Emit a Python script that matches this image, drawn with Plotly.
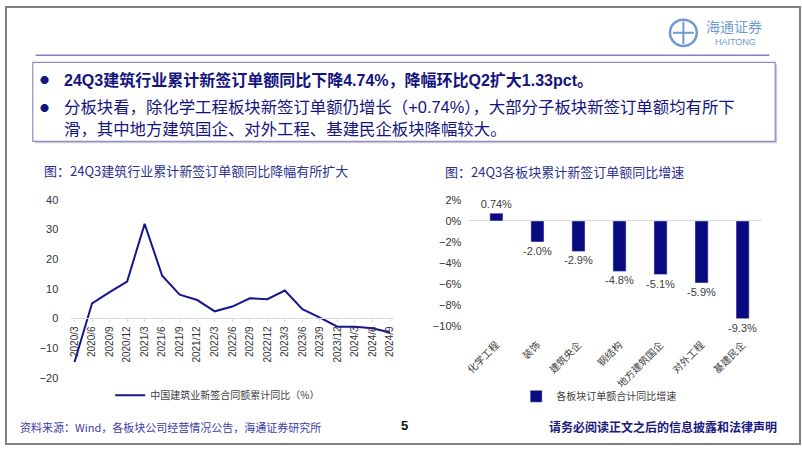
import plotly.graph_objects as go

W, H = 802, 451

# ---- data ----
quarters = ["2020/3", "2020/6", "2020/9", "2020/12", "2021/3", "2021/6", "2021/9", "2021/12",
            "2022/3", "2022/6", "2022/9", "2022/12", "2023/3", "2023/6", "2023/9", "2023/12",
            "2024/3", "2024/6", "2024/9"]
yoy_values = [-14.7, 5.1, 8.9, 12.4, 31.9, 14.4, 8.0, 6.2, 2.4, 4.0, 6.8, 6.5, 9.4, 3.1, 0.3,
              -2.8, -2.8, -3.3, -4.74]
line_name = "中国建筑业新签合同额累计同比（%）"

sectors = ["化学工程", "装饰", "建筑央企", "钢结构", "地方建筑国企", "对外工程", "基建民企"]
sector_values = [0.74, -2.0, -2.9, -4.8, -5.1, -5.9, -9.3]
sector_labels = ["0.74%", "-2.0%", "-2.9%", "-4.8%", "-5.1%", "-5.9%", "-9.3%"]
bar_name = "各板块订单额合计同比增速"

left_title = "图：24Q3建筑行业累计新签订单额同比降幅有所扩大"
right_title = "图：24Q3各板块累计新签订单额同比增速"
bullet1 = "24Q3建筑行业累计新签订单额同比下降4.74%，降幅环比Q2扩大1.33pct。"
bullet2a = "分板块看，除化学工程板块新签订单额仍增长（+0.74%），大部分子板块新签订单额均有所下"
bullet2b = "滑，其中地方建筑国企、对外工程、基建民企板块降幅较大。"
source_text = "资料来源：Wind，各板块公司经营情况公告，海通证券研究所"
page_no = "5"
disclaimer = "请务必阅读正文之后的信息披露和法律声明"


def px(x):
    return x / W


def py(y):
    return 1 - y / H


FONT = "Liberation Sans, Arial, Noto Sans CJK SC"
CJK = "Noto Sans CJK SC, Liberation Sans"
NAVY = "#14147E"

fig = go.Figure()

fig.add_trace(go.Scatter(
    x=quarters, y=yoy_values, mode="lines", name=line_name,
    line=dict(color="#161690", width=2), xaxis="x", yaxis="y", legend="legend",
))

fig.add_trace(go.Bar(
    x=sectors, y=[v / 100 for v in sector_values], name=bar_name,
    marker=dict(color="#0A0A80"), width=0.32,
    text=sector_labels, textposition="outside", constraintext="none",
    textfont=dict(size=11, color="#404040", family=FONT), cliponaxis=False,
    xaxis="x2", yaxis="y2", legend="legend2",
))

fig.update_layout(
    width=W, height=H, autosize=False,
    margin=dict(l=0, r=0, t=0, b=0),
    paper_bgcolor="white", plot_bgcolor="rgba(0,0,0,0)",
    font=dict(family=FONT, color="#333333"),
    xaxis=dict(domain=[px(66), px(392)], anchor="free", position=py(321),
               type="category", range=[-0.23, 18.23], tickangle=-90,
               showline=True, linecolor="#D9D9D9", linewidth=1,
               ticks="outside", ticklen=3, tickcolor="#D9D9D9",
               showgrid=False, tickfont=dict(size=10, color="#333333")),
    yaxis=dict(domain=[py(382), py(199)], range=[-20.05, 40.05], dtick=10,
               showgrid=False, zeroline=False, showline=False,
               ticks="outside", ticklen=9, tickcolor="rgba(0,0,0,0)",
               tickfont=dict(size=11, color="#333333")),
    xaxis2=dict(domain=[px(467), px(763)], anchor="y2", type="category",
                range=[-0.68, 6.48], tickangle=-45, showline=False, showgrid=False,
                ticks="outside", ticklen=8, tickcolor="rgba(0,0,0,0)",
                tickfont=dict(size=10, color="#404040", family=CJK)),
    yaxis2=dict(domain=[py(329), py(199)], anchor="x2", range=[-0.1002, 0.0202],
                dtick=0.02, tickformat=".0%", showgrid=False,
                zeroline=True, zerolinecolor="#D9D9D9", zerolinewidth=1,
                showline=False, ticks="outside", ticklen=4, tickcolor="rgba(0,0,0,0)",
                tickfont=dict(size=11, color="#333333")),
    legend=dict(x=px(106), y=py(400), xanchor="left", yanchor="middle",
                orientation="h", bgcolor="rgba(0,0,0,0)",
                font=dict(size=10, color="#404040", family=CJK)),
    legend2=dict(x=px(515), y=py(401), xanchor="left", yanchor="middle",
                 orientation="h", bgcolor="rgba(0,0,0,0)",
                 font=dict(size=10, color="#404040", family=CJK)),
    showlegend=True,
)

shapes = []
# page frame
shapes.append(dict(type="rect", xref="paper", yref="paper", x0=px(1), x1=px(801), y0=py(450), y1=py(1),
                   line=dict(color="#808080", width=2), layer="above"))
# header line
shapes.append(dict(type="line", xref="paper", yref="paper", x0=px(31), x1=px(770), y0=py(50.5), y1=py(50.5),
                   line=dict(color="#7F83C4", width=1.5)))
# box shadow + box
shapes.append(dict(type="rect", xref="paper", yref="paper", x0=px(30), x1=px(778), y0=py(141), y1=py(60),
                   line=dict(width=0), fillcolor="#C9C9D6", layer="below"))
shapes.append(dict(type="rect", xref="paper", yref="paper", x0=px(28), x1=px(776), y0=py(139), y1=py(58),
                   line=dict(color="#8E8EC4", width=1.2), fillcolor="white", layer="below"))
# logo circle
shapes.append(dict(type="circle", xref="paper", yref="paper", x0=px(670), x1=px(697), y0=py(41), y1=py(14),
                   line=dict(color="#6F9BD1", width=2.5)))
shapes.append(dict(type="line", xref="paper", yref="paper", x0=px(683.5), x1=px(683.5), y0=py(39), y1=py(16),
                   line=dict(color="#6F9BD1", width=2)))
shapes.append(dict(type="line", xref="paper", yref="paper", x0=px(673), x1=px(694), y0=py(27.5), y1=py(27.5),
                   line=dict(color="#6F9BD1", width=2)))

ann = []


def text(x, y, s, size, color, bold=False, family=CJK, anchor="left"):
    ann.append(dict(xref="paper", yref="paper", x=px(x), y=py(y), xanchor=anchor, yanchor="middle",
                    text=f"<b>{s}</b>" if bold else s, showarrow=False,
                    font=dict(size=size, color=color, family=family)))


# logo text
text(704, 21, "海通证券", 14, "#6F9BD1", family=CJK)
text(736, 37, "HAITONG", 9, "#6F9BD1", family=FONT, anchor="center")

# bullets
text(33, 76, "●", 9, NAVY)
text(33, 104, "●", 9, NAVY)
text(57, 76, bullet1, 16, NAVY, bold=True, family=FONT)
text(57, 104, bullet2a, 16.4, NAVY, family=FONT)
text(57, 126, bullet2b, 16.4, NAVY, family=FONT)

# chart titles
text(37, 169, left_title, 13, "#2A2F8F")
text(441, 170, right_title, 13, "#2A2F8F")

# footer
text(13, 432, source_text, 11, "#3C3CA6")
text(403, 431, page_no, 13, "#111111", bold=True, family=FONT, anchor="center")
text(780, 432, disclaimer, 12, "#1A1A80", bold=True, anchor="right")

fig.update_layout(shapes=shapes, annotations=ann)

fig.write_html("out.html", config={"displayModeBar": False},
               post_script="document.body.style.margin='0';document.body.style.overflow='hidden';")
